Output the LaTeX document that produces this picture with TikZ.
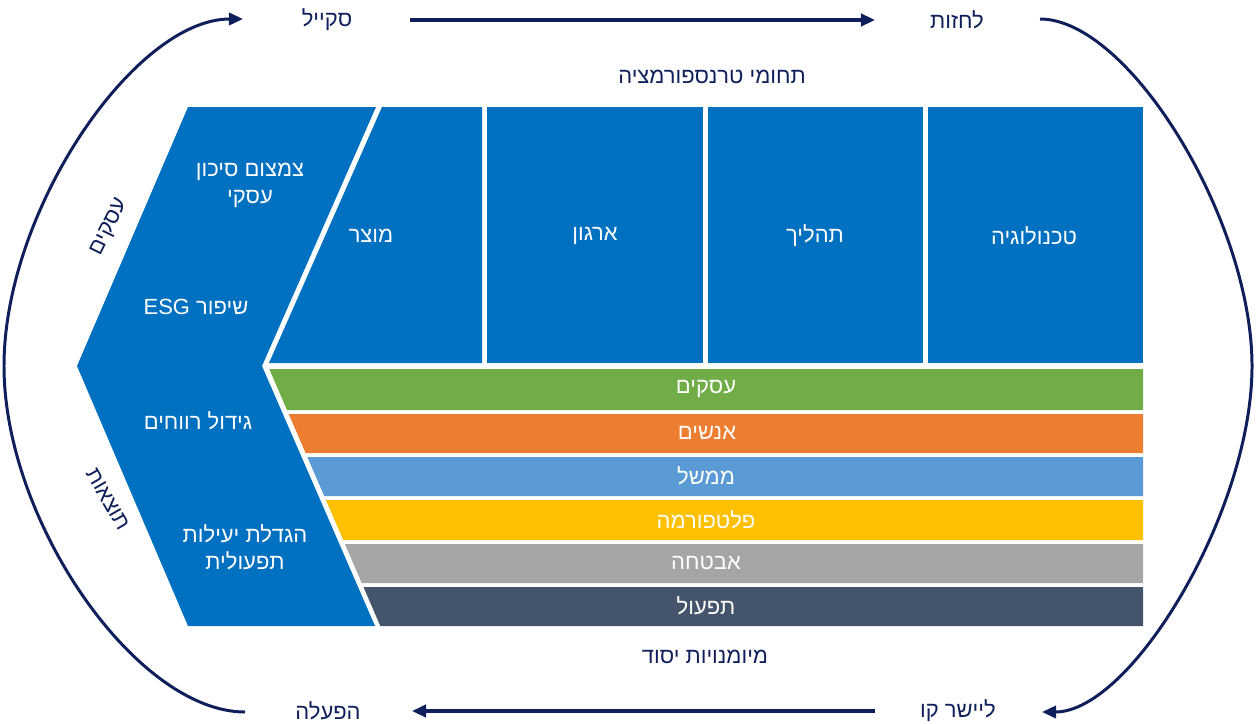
\documentclass[tikz,border=0pt]{standalone}
\usepackage{fontspec}
\setmainfont[Script=Hebrew]{Liberation Sans}
\usetikzlibrary{arrows.meta,calc}
\TeXXeTstate=1
\newcommand{\heb}[1]{\beginR #1\endR}
\definecolor{navy}{HTML}{0E1F5B}
\definecolor{mainblue}{HTML}{0070C0}
\definecolor{sgreen}{HTML}{70AD47}
\definecolor{sorange}{HTML}{ED7D31}
\definecolor{slblue}{HTML}{5B9BD5}
\definecolor{syellow}{HTML}{FFC000}
\definecolor{sgray}{HTML}{A5A5A5}
\definecolor{sdark}{HTML}{44546A}
\begin{document}
\begin{tikzpicture}[x=0.02cm,y=-0.02cm,
  font=\fontsize{12.5}{15.3}\selectfont,
  lbl/.style={text=navy, inner sep=0pt},
  wlbl/.style={text=white, inner sep=0pt, align=center},
  tip/.style={-{Triangle[length=8pt,width=7pt]}},
  arr/.style={draw=navy, line width=2pt, tip},
  crv/.style={draw=navy, line width=1.7pt, tip},
  blk/.style={fill=mainblue, draw=none}]
\useasboundingbox (0,0) rectangle (1256,723);

% left chevron and top blocks
\fill[blk] (188,107) -- (376,107) -- (262,366) -- (375,626) -- (188,626) -- (77,366) -- cycle;
\fill[blk] (382,107) -- (482,107) -- (482,363) -- (269,363) -- cycle;
\fill[blk] (487,107) rectangle (703,363);
\fill[blk] (708,107) rectangle (923,363);
\fill[blk] (928,107) rectangle (1143,363);

% stripes
\fill[sgreen]  (269.3,369) -- (1143,369) -- (1143,410) -- (287.0,410) -- cycle;
\fill[sorange] (288.7,414) -- (1143,414) -- (1143,453) -- (305.6,453) -- cycle;
\fill[slblue]  (307.3,457) -- (1143,457) -- (1143,496) -- (324.2,496) -- cycle;
\fill[syellow] (325.9,500) -- (1143,500) -- (1143,540) -- (343.2,540) -- cycle;
\fill[sgray]   (344.9,544) -- (1143,544) -- (1143,583) -- (361.7,583) -- cycle;
\fill[sdark]   (363.5,587) -- (1143,587) -- (1143,626) -- (380.3,626) -- cycle;

% labels in blocks
\node[wlbl] (motzar) at (371,236) {\heb{מוצר}};
\node[wlbl] (irgun) at (595,236) {\heb{ארגון}};
\node[wlbl] (tahalich) at (815,236) {\heb{תהליך}};
\node[wlbl] (tech) at (1034,236) {\heb{טכנולוגיה}};

\node[wlbl] (sikun) at (250,185) {\heb{צמצום סיכון}\\\heb{עסקי}};
\node[wlbl] (esg) at (196,307) {\heb{שיפור \beginL ESG\endL}};
\node[wlbl] (revach) at (198,421) {\heb{גידול רווחים}};
\node[wlbl] (yeilut) at (245,547) {\heb{הגדלת יעילות}\\\heb{תפעולית}};

\node[wlbl] (s1) at (706,389) {\heb{עסקים}};
\node[wlbl] (s2) at (707,433) {\heb{אנשים}};
\node[wlbl] (s3) at (706,476) {\heb{ממשל}};
\node[wlbl] (s4) at (706,520) {\heb{פלטפורמה}};
\node[wlbl] (s5) at (706,563) {\heb{אבטחה}};
\node[wlbl] (s6) at (706,606) {\heb{תפעול}};

% outer labels
\node[lbl] (title) at (712,77) {\heb{תחומי טרנספורמציה}};
\node[lbl] (basis) at (705,657) {\heb{מיומנויות יסוד}};
\node[lbl] (skale) at (327,20) {\heb{סקייל}};
\node[lbl] (lachzot) at (957,20) {\heb{לחזות}};
\node[lbl] (hafala) at (328,711) {\heb{הפעלה}};
\node[lbl] (yasher) at (958,711) {\heb{ליישר קו}};
\node[lbl, rotate=64] (asakim) at (110,227) {\heb{עסקים}};
\node[lbl, rotate=-60] (totzaot) at (108,499) {\heb{תוצאות}};

% connectors
\draw[arr] ($(skale.center)+(83,0)$) -- ($(lachzot.center)+(-82,0)$);
\draw[arr] ($(yasher.center)+(-83,0)$) -- ($(hafala.center)+(84,0)$);
\coordinate (lm) at (4,366);
\coordinate (rm) at (1252,366);
\draw[crv] ($(hafala.center)+(-83,1)$) .. controls +(-108,0) and +(0,156) .. (lm)
  .. controls +(0,-156) and +(-108,0) .. ($(skale.center)+(-84,-1)$);
\draw[crv] ($(lachzot.center)+(83,-1)$) .. controls +(89,0) and +(0,-146) .. (rm)
  .. controls +(0,146) and +(89,0) .. ($(yasher.center)+(84,1)$);
\end{tikzpicture}
\end{document}
